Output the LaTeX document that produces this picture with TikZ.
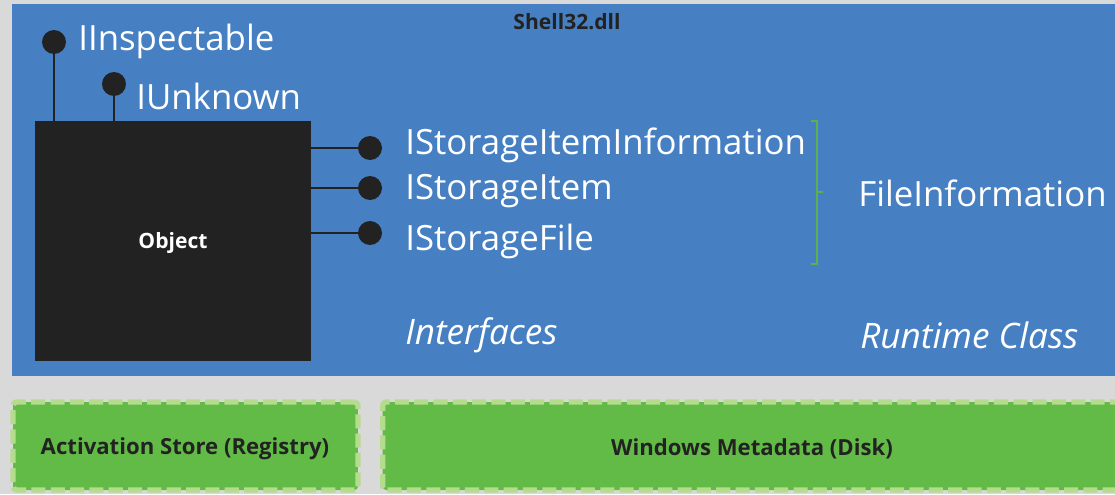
\documentclass[tikz,border=0pt]{standalone}
\usepackage{fontspec}
\setmainfont{Open Sans}
\usepackage{tikz}
\usetikzlibrary{positioning,calc}
\definecolor{panelBlue}{RGB}{70,128,194}
\definecolor{bgGray}{RGB}{217,217,217}
\definecolor{objBlack}{RGB}{34,34,34}
\definecolor{storeGreen}{RGB}{99,187,71}
\definecolor{dashGreen}{RGB}{181,219,143}
\definecolor{braceGreen}{RGB}{92,176,80}

\begin{document}
\begin{tikzpicture}[x=0.02cm,y=-0.02cm,
                iface/.style={circle,fill=objBlack,minimum size=0.48cm,inner sep=0pt},
                ilabel/.style={anchor=west,text=white,inner sep=0pt,
                            font=\fontsize{19.8}{23}\selectfont},
                caption/.style={anchor=west,text=white,inner sep=0pt,
                            font=\fontsize{20}{23}\selectfont\itshape},
                stem/.style={draw=objBlack,line width=0.9pt},
                store/.style={draw=dashGreen,fill=storeGreen,line width=3pt,
                            dash pattern=on 8pt off 3pt,rounded corners=2pt,
                            text=objBlack,font=\fontsize{12.6}{15}\selectfont\bfseries,
                            minimum height=1.76cm}
            ]
                \clip (0,0) rectangle (1115,494);
                \fill[bgGray] (0,0) rectangle (1115,494);
                \fill[panelBlue] (12,4) rectangle (1130,376);
                \node[font=\fontsize{12}{14}\selectfont\bfseries,text=objBlack] (dll) at (567,22) {Shell32.dll};

                \node[fill=objBlack,minimum width=5.52cm,minimum height=4.8cm,text=white,
                      font=\fontsize{12}{14}\selectfont\bfseries] (obj) at (173,241) {};
                \node[font=\fontsize{12}{14}\selectfont\bfseries,text=white] (objl) at (173,243) {Object};

                \node[iface] (insp) at (54,42) {};
                \node[ilabel] (inspl) at (78,41) {IInspectable};
                \node[iface] (unk) at (114,84) {};
                \node[ilabel] (unkl) at (136,96) {IUnknown};
                \draw[stem] (insp) -- (insp |- obj.north);
                \draw[stem] (unk) -- (unk |- obj.north);

                \node[iface] (sii) at (370,148) {};
                \node[iface] (si) at (370,188) {};
                \node[iface] (sf) at (370,233) {};
                \node[ilabel] (siil) at (405,145) {IStorageItemInformation};
                \node[ilabel] (sil) at (405,191) {IStorageItem};
                \node[ilabel] (sfl) at (405,241) {IStorageFile};
                \draw[stem] (obj.east |- sii) -- (sii);
                \draw[stem] (obj.east |- si) -- (si);
                \draw[stem] (obj.east |- sf) -- (sf);

                \coordinate (brtop) at (817,121);
                \coordinate (brbot) at (817,264);
                \coordinate (brmid) at (817,192);
                \draw[braceGreen,line width=0.8pt] ($(brtop)+(-6,0)$) -- (brtop) -- (brbot) -- ++(-6,0);
                \draw[braceGreen,line width=0.8pt] (brmid) -- ++(6,0);
                \node[ilabel] (fi) at (858,193) {FileInformation};

                \node[caption] (ifc) at (405,335) {Interfaces};
                \node[caption] (rtc) at (860,335) {Runtime Class};

                \node[store,minimum width=6.9cm] (act) at (185.5,446) {};
                \node[font=\fontsize{12.6}{15}\selectfont\bfseries,text=objBlack] (actl) at (185,449) {Activation Store (Registry)};
                \node[store,minimum width=14.9cm,anchor=west] (meta) at (380,446) {};
                \node[font=\fontsize{12.6}{15}\selectfont\bfseries,text=objBlack] (metal) at (752,449) {Windows Metadata (Disk)};
            \end{tikzpicture}
\end{document}
